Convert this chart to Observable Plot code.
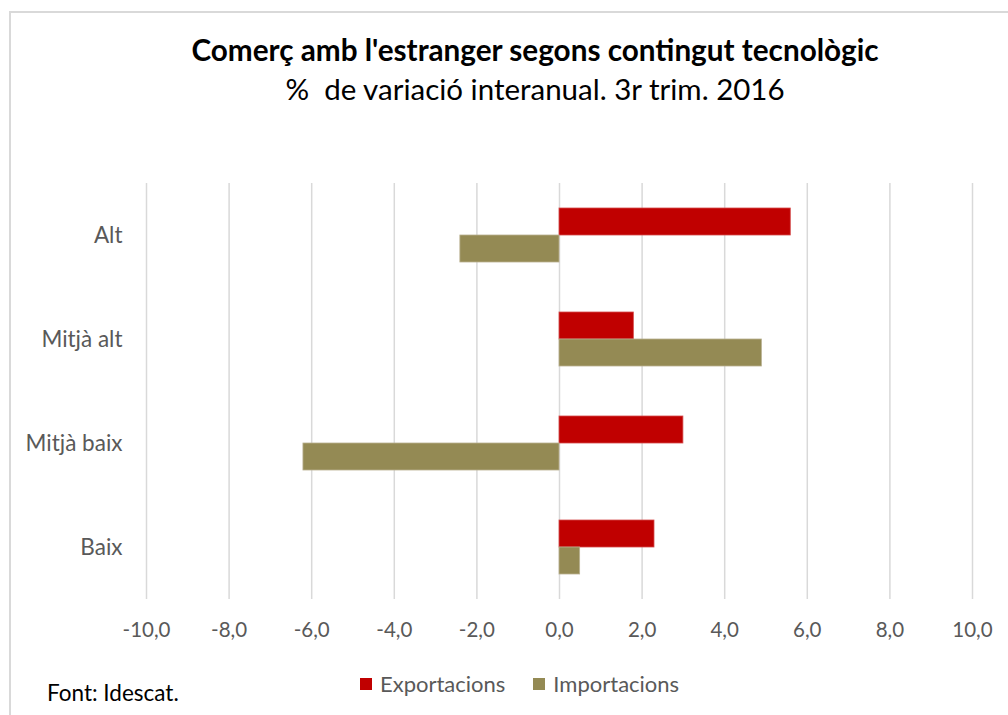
<!DOCTYPE html>
<html>
<head>
<meta charset="utf-8">
<script src="https://cdn.jsdelivr.net/npm/d3@7"></script>
<script src="https://cdn.jsdelivr.net/npm/@observablehq/plot@0.6"></script>
<style>
  body { margin: 0; background: #fff; }
  #frame { position: relative; width: 1008px; height: 715px; overflow: hidden; font-family: Lato, "Open Sans", sans-serif; background:#fff; }
  #border { position: absolute; left: 9px; top: 11px; width: 1010px; height: 720px; border: 2px solid #d9d9d9; box-sizing: border-box; }
  #title { position: absolute; top: 32px; left: 62px; width: 946px; text-align: center; font-size: 29.7px; font-weight: bold; color: #000; line-height: 36px; white-space: nowrap; }
  #subtitle { position: absolute; top: 71px; left: 62px; width: 946px; text-align: center; font-size: 29.5px; color: #000; line-height: 36px; white-space: nowrap; }
  #chart { position: absolute; left: 0; top: 150px; }
  #legend { position: absolute; top: 670px; left: 360px; font-size: 22px; color: #595959; display: flex; align-items: center; line-height: 28px; white-space: nowrap; }
  .sw { display: inline-block; width: 12px; height: 12px; margin-right: 8px; }
  #caption { position: absolute; top: 680px; left: 47px; font-size: 22.5px; color: #000; line-height: 26px; white-space: nowrap; }
</style>
</head>
<body>
<div id="frame">
  <div id="border"></div>
  <div id="title">Comerç amb l'estranger segons contingut tecnològic</div>
  <div id="subtitle">%&nbsp; de variació interanual. 3r trim. 2016</div>
  <div id="chart"></div>
  <div id="legend"></div>
  <div id="caption">Font: Idescat.</div>
</div>
<script>
const categories = ["Alt", "Mitjà alt", "Mitjà baix", "Baix"];
const exportacions = [5.6, 1.8, 3.0, 2.3];
const importacions = [-2.4, 4.9, -6.2, 0.5];
const seriesNames = ["Exportacions", "Importacions"];
const seriesColors = ["#C00000", "#948A54"];
const xTicks = [-10, -8, -6, -4, -2, 0, 2, 4, 6, 8, 10];

const expData = categories.map((c, i) => ({cat: c, value: exportacions[i]}));
const impData = categories.map((c, i) => ({cat: c, value: importacions[i]}));

const fmt = d => d.toFixed(1).replace(".", ",");

const chart = Plot.plot({
  width: 1008,
  height: 520,
  marginLeft: 146,
  marginRight: 36,
  marginTop: 33,
  marginBottom: 71,
  style: { fontFamily: "Lato, 'Open Sans', sans-serif", background: "transparent", color: "#595959" },
  x: { domain: [-10, 10], ticks: xTicks, tickFormat: fmt, tickSize: 0, label: null },
  y: { domain: categories, paddingInner: 0.48, paddingOuter: 0.24, tickSize: 0, label: null },
  marks: [
    Plot.gridX(xTicks, { stroke: "#d9d9d9", strokeOpacity: 1, strokeWidth: 1.5 }),
    Plot.barX(expData, { x: "value", y: "cat", fill: seriesColors[0], insetBottom: 27, stroke: "#d44a4a", strokeWidth: 0.8 }),
    Plot.barX(impData, { x: "value", y: "cat", fill: seriesColors[1], insetTop: 27, stroke: "#b8b090", strokeWidth: 0.8 }),
    Plot.axisX({ ticks: xTicks, tickFormat: fmt, tickSize: 0, tickPadding: 23, fontSize: 20.5, fill: "#595959" }),
    Plot.axisY({ tickSize: 0, tickPadding: 24, fontSize: 22.5, fill: "#595959" })
  ]
});
document.getElementById("chart").appendChild(chart);

const legend = document.getElementById("legend");
seriesNames.forEach((name, i) => {
  const item = document.createElement("span");
  item.style.display = "inline-flex";
  item.style.alignItems = "center";
  item.style.marginRight = i === 0 ? "28px" : "0";
  const sw = document.createElement("span");
  sw.className = "sw";
  sw.style.background = seriesColors[i];
  item.appendChild(sw);
  item.appendChild(document.createTextNode(name));
  legend.appendChild(item);
});
</script>
</body>
</html>
